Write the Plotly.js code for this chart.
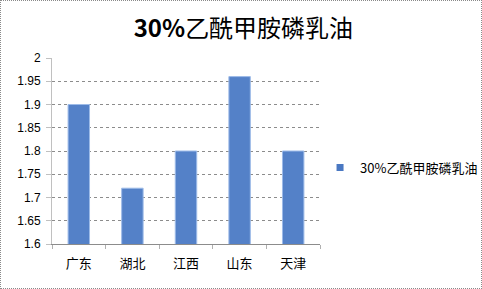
<!DOCTYPE html>
<html>
<head>
<meta charset="utf-8">
<script src="https://cdn.plot.ly/plotly-3.0.1.min.js"></script>
<style>
html,body{margin:0;padding:0;background:#fff;}
#wrap{position:relative;width:482px;height:289px;}
#chart{width:482px;height:289px;}
#frame{position:absolute;left:0;top:0;width:482px;height:289px;box-sizing:border-box;border:1px dotted #8a8a8a;pointer-events:none;}
</style>
</head>
<body>
<div id="wrap"><div id="chart"></div><div id="frame"></div></div>
<script>
const categories = ['广东', '湖北', '江西', '山东', '天津'];
const values = [1.90, 1.72, 1.80, 1.96, 1.80];
const seriesName = '30%乙酰甲胺磷乳油';
const yTicks = [1.6, 1.65, 1.7, 1.75, 1.8, 1.85, 1.9, 1.95, 2];
const yTickText = ['1.6', '1.65', '1.7', '1.75', '1.8', '1.85', '1.9', '1.95', '2'];

const cjk = '"Noto Sans CJK SC", "Noto Sans", sans-serif';

const traces = [
  {
    type: 'bar',
    x: categories,
    y: values,
    base: 0,
    name: seriesName,
    showlegend: false,
    marker: {
      color: '#6a96dc',
      line: {color: '#9dbbe8', width: 1},
      pattern: {shape: '.', fgcolor: '#3360ab', bgcolor: '#6e9ae0', size: 2, solidity: 0.5}
    },
    hoverinfo: 'x+y'
  },
  {
    type: 'scatter',
    mode: 'markers',
    x: [null],
    y: [null],
    name: seriesName,
    marker: {symbol: 'square', size: 7, color: '#4a78c2'}
  }
];

const layout = {
  width: 482,
  height: 289,
  margin: {l: 52, r: 162, t: 58, b: 45},
  paper_bgcolor: '#ffffff',
  plot_bgcolor: '#ffffff',
  font: {family: cjk, color: '#000000', size: 13},
  title: {
    text: '<b>30%</b>乙酰甲胺磷乳油',
    font: {family: cjk, size: 24, color: '#000000'},
    x: 0.505, xanchor: 'center',
    y: 0.9, yref: 'container', yanchor: 'middle'
  },
  bargap: 0.6,
  xaxis: {
    type: 'category',
    showline: true, linecolor: '#8c8c8c', linewidth: 1,
    ticks: 'outside', tickson: 'boundaries', ticklen: 4, tickcolor: '#b0b0b0',
    tickfont: {family: cjk, size: 13, color: '#000'},
    ticklabelstandoff: 7,
    showgrid: false, zeroline: false
  },
  yaxis: {
    range: [1.6, 2],
    tickvals: yTicks,
    ticktext: yTickText,
    showline: true, linecolor: '#c0c0c0', linewidth: 1,
    ticks: 'outside', ticklen: 5, tickcolor: '#c0c0c0',
    tickfont: {family: '"Liberation Sans", sans-serif', size: 12, color: '#000'},
    ticklabelstandoff: 3,
    showgrid: true, gridcolor: '#8c8c8c', griddash: 'dot', gridwidth: 1,
    zeroline: false
  },
  showlegend: true,
  legend: {
    xref: 'container', yref: 'container',
    x: 0.664, xanchor: 'left',
    y: 0.42, yanchor: 'middle',
    font: {family: cjk, size: 13, color: '#000'},
    bgcolor: 'rgba(0,0,0,0)',
    itemwidth: 30
  }
};

Plotly.newPlot('chart', traces, layout, {displayModeBar: false, staticPlot: true});
</script>
</body>
</html>
